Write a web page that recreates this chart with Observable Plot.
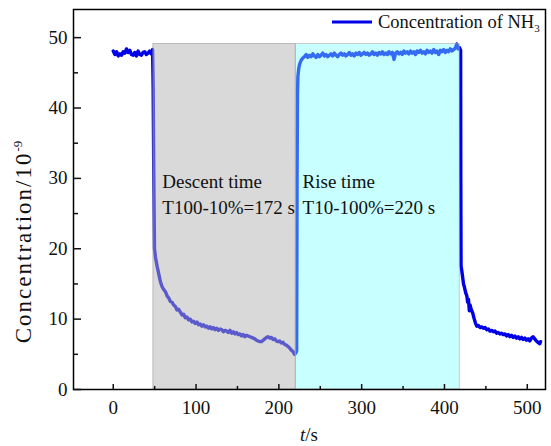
<!DOCTYPE html>
<html><head><meta charset="utf-8">
<script src="https://cdn.jsdelivr.net/npm/d3@7"></script>
<script src="https://cdn.jsdelivr.net/npm/@observablehq/plot@0.6"></script>
<style>body{margin:0;background:#fff}</style>
</head><body><div id="chart"></div>
<script>
// time (s)
const times = [
  0,2,4,6,8,10,12,14,16,18,20,22,24,26,28,30,32,34,36,38,40,42,44,46,47.5,
  48.2,49,49.8,51,53,55,57,59,61,63,65,67,69,71,73,75,77,79,81,83,85,87,89,91,93,95,97,99,
  101,103,105,107,109,111,113,115,117,119,121,123,125,127,129,131,133,135,137,139,141,143,145,147,149,
  151,153,155,157,159,161,163,165,167,169,171,173,175,177,179,181,183,185,187,189,191,193,195,197,199,
  201,203,205,207,209,211,213,215,217,219,220.5,
  221.5,222,222.5,223,224,225,227,229,231,
  233,235,237,239,241,243,245,247,249,251,253,255,257,259,261,263,265,267,269,271,273,275,277,279,
  281,283,285,287,289,291,293,295,297,299,301,303,305,307,309,311,313,315,317,319,321,323,325,327,329,
  331,333,335,337,339,341,343,345,347,349,351,353,355,357,359,361,363,365,367,369,371,373,375,377,379,
  381,383,385,387,389,391,393,395,397,399,401,403,405,407,409,411,413,415,416.5,418,419.5,
  419.7,420,421,422,423,424,425.5,427,428,429,430,431,432,434,436,437.5,439,441,443,445,447,449,
  451,453,455,457,459,461,463,465,467,469,471,473,475,477,479,481,483,485,487,489,491,493,495,497,499,
  501,503,505,507,509,511,513,515,516
];
// NH3 concentration (10^-9)
const values = [
  48.1,47.6,48.0,47.4,47.7,47.5,48.0,47.8,48.4,47.9,48.2,47.6,47.5,47.9,47.4,48.1,47.6,47.5,47.9,48.0,47.6,47.8,48.1,47.7,48.3,
  43.0,30.0,20.0,18.8,17.5,16.4,15.3,14.6,14.2,13.9,13.3,13.0,12.5,12.4,12.0,11.8,11.3,11.4,11.0,10.6,10.7,10.2,10.3,9.9,10.0,9.6,9.7,9.4,
  9.6,9.2,9.3,9.0,9.2,8.9,9.0,8.7,8.9,8.6,8.8,8.5,8.7,8.4,8.6,8.5,8.2,8.4,8.3,8.1,8.4,8.0,8.2,7.9,8.1,
  7.8,7.9,7.6,7.8,7.5,7.7,7.6,7.5,7.4,7.3,7.2,7.0,6.9,6.8,6.8,7.0,7.2,7.4,7.5,7.3,7.4,7.1,7.2,6.9,6.8,
  6.9,6.6,6.7,6.4,6.3,6.1,5.9,5.6,5.4,5.0,5.2,
  5.5,30.0,42.0,44.5,45.6,46.2,46.8,47.1,47.3,
  47.6,47.2,47.5,47.3,47.7,47.4,47.2,47.6,47.3,47.5,47.8,47.4,47.6,47.3,47.5,47.7,47.4,47.8,47.5,47.3,47.6,47.8,47.5,47.7,
  47.4,47.6,47.9,47.5,47.7,47.4,47.8,47.6,47.9,47.5,47.7,47.9,47.6,47.8,47.5,47.7,48.0,47.6,47.8,47.5,47.9,47.7,48.0,47.6,47.8,
  47.6,48.0,47.7,47.9,46.9,47.8,48.0,47.7,47.9,47.6,48.1,47.8,48.0,47.7,48.1,47.8,48.0,47.6,48.1,47.9,48.2,47.8,48.0,47.7,48.2,
  47.9,48.1,47.8,48.3,47.9,48.1,47.6,48.2,48.0,48.3,47.9,48.2,48.0,48.4,48.1,48.3,48.5,49.1,48.4,48.6,48.2,
  30.0,17.6,16.8,15.9,15.0,14.6,13.8,13.3,12.4,12.8,11.2,12.0,11.5,10.9,10.0,9.4,9.0,9.1,8.8,8.9,8.7,8.8,
  8.5,8.6,8.3,8.4,8.2,8.3,8.0,8.1,7.9,8.0,7.8,7.9,7.6,7.8,7.5,7.7,7.4,7.6,7.3,7.5,7.2,7.4,7.1,7.3,7.0,
  7.2,6.9,7.3,7.5,7.2,6.9,6.7,6.5,6.8
];
const regionStart = [48.5, 220.5];
const regionEnd = [220.5, 418.5];
const regionTop = [49.1, 49.1];
const xTicks = [0, 100, 200, 300, 400, 500];
const xMinor = [50, 150, 250, 350, 450];
const yTicks = [0, 10, 20, 30, 40, 50];
const yMinor = [5, 15, 25, 35, 45];
const seriesName = "Concentration of NH";
const seriesSub = "3";
const descentText = "Descent time\nT100-10%=172 s";
const riseText = "Rise time\nT10-100%=220 s";
const yLabel = "Concentration/10";
const yLabelSup = "-9";

const data = times.map((t, i) => ({t, v: values[i]}));
const regions = regionStart.map((s, i) => ({x1: s, x2: regionEnd[i], y2: regionTop[i]}));

const font = "Liberation Serif, Times New Roman, serif";
const lineColor = "#0000e6";
const ink = "#111";

const plot = Plot.plot({
  width: 551, height: 446,
  marginLeft: 73, marginRight: 6, marginTop: 9, marginBottom: 57,
  x: {domain: [-48, 522]},
  y: {domain: [0, 54]},
  style: {fontFamily: font, fontSize: "19px", color: ink, background: "#fff", overflow: "visible"},
  marks: [
    Plot.line(data, {x: "t", y: "v", stroke: lineColor, strokeWidth: 3.4}),
    Plot.rect([regions[0]], {x1: "x1", x2: "x2", y1: 0, y2: "y2", fill: "#b4b4b4", fillOpacity: 0.5, stroke: "#999", strokeOpacity: 0.6, strokeWidth: 1}),
    Plot.rect([regions[1]], {x1: "x1", x2: "x2", y1: 0, y2: "y2", fill: "rgb(125,255,255)", fillOpacity: 0.42, stroke: "#aaa", strokeOpacity: 0.6, strokeWidth: 1}),
    Plot.text([descentText], {x: 59.2, y: 25.0, text: d => d, textAnchor: "start", lineAnchor: "bottom", lineHeight: 1.37, fontSize: 19, fontFamily: font, fill: ink}),
    Plot.text([riseText], {x: 228.6, y: 25.0, text: d => d, textAnchor: "start", lineAnchor: "bottom", lineHeight: 1.37, fontSize: 19, fontFamily: font, fill: ink}),
    Plot.frame({stroke: "#000", strokeWidth: 1.5}),
    Plot.axisX(xTicks, {tickSize: -5, tickPadding: 16, label: null, fontSize: 19, fontFamily: font, strokeWidth: 1.5, fill: ink}),
    Plot.axisX(xMinor, {tickSize: -3, tickFormat: () => "", label: null, strokeWidth: 1.5}),
    Plot.axisY(yTicks, {tickSize: -8, tickPadding: 14, label: null, fontSize: 19, fontFamily: font, strokeWidth: 1.5, fill: ink}),
    Plot.axisY(yMinor, {tickSize: -5, tickFormat: () => "", label: null, strokeWidth: 1.5})
  ]
});

const svg = d3.select(plot);
// legend
svg.append("line").attr("x1", 332).attr("x2", 372).attr("y1", 22).attr("y2", 22)
  .attr("stroke", lineColor).attr("stroke-width", 3);
const lt = svg.append("text").attr("x", 378).attr("y", 28)
  .style("font-family", font).style("font-size", "18.5px").attr("text-anchor", "start").attr("fill", ink)
  .text(seriesName);
lt.append("tspan").style("font-size", "11px").attr("dy", 4).text(seriesSub);
// y label
const yl = svg.append("text").style("font-family", font).style("font-size", "23px").style("letter-spacing", "2px").attr("fill", ink)
  .attr("text-anchor", "middle").attr("transform", "translate(31,242) rotate(-90)").text(yLabel);
yl.append("tspan").style("font-size", "13px").style("letter-spacing", "0px").attr("dy", -9).text(yLabelSup);
// x label
const xl = svg.append("text").style("font-family", font).style("font-size", "19px").attr("fill", ink)
  .attr("text-anchor", "middle").attr("x", 309).attr("y", 441);
xl.append("tspan").style("font-style", "italic").text("t");
xl.append("tspan").text("/s");

document.getElementById("chart").appendChild(plot);
</script>
</body></html>
